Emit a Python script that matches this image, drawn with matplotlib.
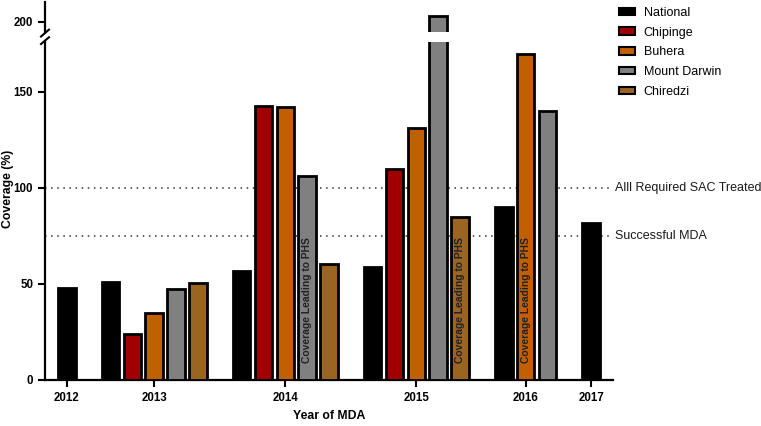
"""
Coverage by district and year of MDA, with a broken y axis.
"""

import matplotlib.pyplot as plt
import matplotlib.patches as mpatches
import numpy as np

plt.rcParams['font.family'] = ['Liberation Sans', 'DejaVu Sans']

# Data
years = ['2012', '2013', '2014', '2015', '2016', '2017']
series_names = ['National', 'Chipinge', 'Buhera', 'Mount Darwin', 'Chiredzi']
series_colors = ['#000000', '#A00000', '#C06000', '#808080', '#9A6422']

nan = np.nan
national = [48, 51, 57, 59, 90, 82]
chipinge = [nan, 24, 142.5, 110, nan, nan]
buhera = [nan, 35, 142, 131.5, 170, nan]
mount_darwin = [nan, 47.5, 106, 203, 140, nan]
chiredzi = [nan, 50.5, 60.5, 85, nan, nan]
values = [national, chipinge, buhera, mount_darwin, chiredzi]

thresholds = [100, 75]
threshold_labels = ['Alll Required SAC Treated', 'Successful MDA']

phs_bars = [('2014', 'Mount Darwin'), ('2015', 'Chiredzi'), ('2016', 'Buhera')]
phs_text = 'Coverage Leading to PHS'

# Bar positions: present series side by side, one empty slot between years
positions = {}
tick_pos = []
pos = 0
for i, yr in enumerate(years):
    present = [j for j in range(len(series_names)) if not np.isnan(values[j][i])]
    for k, j in enumerate(present):
        positions[(i, j)] = pos + k
    tick_pos.append(pos + (len(present) - 1) / 2)
    pos += len(present) + 1

W, H = 761, 426
fig = plt.figure(figsize=(W / 100, H / 100), dpi=100)

x0, x1 = 45 / W, 613 / W
ax = fig.add_axes([x0, (H - 380) / H, x1 - x0, (380 - 42) / H])
ax_top = fig.add_axes([x0, (H - 32) / H, x1 - x0, 30 / H])

px_per_unit = 96 / 50
ax.set_ylim(0, 338 / px_per_unit)
ax_top.set_ylim(200 - 10 / px_per_unit, 200 + 20 / px_per_unit)

width = 0.8
for a in (ax, ax_top):
    for (i, j), xp in positions.items():
        a.bar(xp, values[j][i], width, color=series_colors[j],
              edgecolor='black', linewidth=2, zorder=3)
    a.set_xlim(-1, pos - 1)

# Threshold lines
for yv, lab in zip(thresholds, threshold_labels):
    ax.axhline(yv, color='#333333', linestyle=(0, (1, 3)), linewidth=1.1, zorder=1)
    ax.text(1.003, yv, lab, transform=ax.get_yaxis_transform(),
            va='center', ha='left', fontsize=9, color='#1a1a1a')

# Text inside bars
for yr, name in phs_bars:
    xp = positions[(years.index(yr), series_names.index(name))]
    ax.text(xp, 9, phs_text, rotation=90, ha='center', va='bottom',
            fontsize=7.4, fontweight='bold', color='#222222', zorder=4)

# Axes styling
ax.spines['top'].set_visible(False)
ax.spines['right'].set_visible(False)
ax.spines['left'].set_linewidth(1.6)
ax.spines['bottom'].set_linewidth(1.6)
ax.set_yticks([0, 50, 100, 150])
ax.set_xticks(tick_pos)
ax.set_xticklabels(years)
ax.tick_params(width=1.5, length=5, labelsize=8.3)
for lbl in ax.get_xticklabels() + ax.get_yticklabels():
    lbl.set_fontweight('bold')

for s in ('top', 'right', 'bottom'):
    ax_top.spines[s].set_visible(False)
ax_top.spines['left'].set_linewidth(1.6)
ax_top.set_xticks([])
ax_top.set_yticks([200])
ax_top.tick_params(width=1.5, length=5, labelsize=8.3)
for lbl in ax_top.get_yticklabels():
    lbl.set_fontweight('bold')

# Break marks on the y axis
d = 0.007
kw = dict(color='black', linewidth=1.5, clip_on=False)
ax.plot([-d, d], [1 - 0.006, 1 + 0.014], transform=ax.transAxes, **kw)
ax_top.plot([-d, d], [-0.15, 0.08], transform=ax_top.transAxes, **kw)

fig.text(8.5 / W, 1 - 189 / H, 'Coverage (%)', rotation=90, ha='center',
         va='center', fontsize=8.8, fontweight='bold')
fig.text((x0 + x1) / 2, 1 - 416 / H, 'Year of MDA', ha='center', va='center',
         fontsize=8.8, fontweight='bold')

handles = [mpatches.Patch(facecolor=c, edgecolor='black', linewidth=1.5)
           for c in series_colors]
fig.legend(handles, series_names, loc='upper left',
           bbox_to_anchor=(612 / W, 1.0), frameon=False, fontsize=9,
           handlelength=1.3, handleheight=0.55, labelspacing=0.62,
           handletextpad=0.7, borderaxespad=0.15)

fig.savefig('out.png', dpi=100)
